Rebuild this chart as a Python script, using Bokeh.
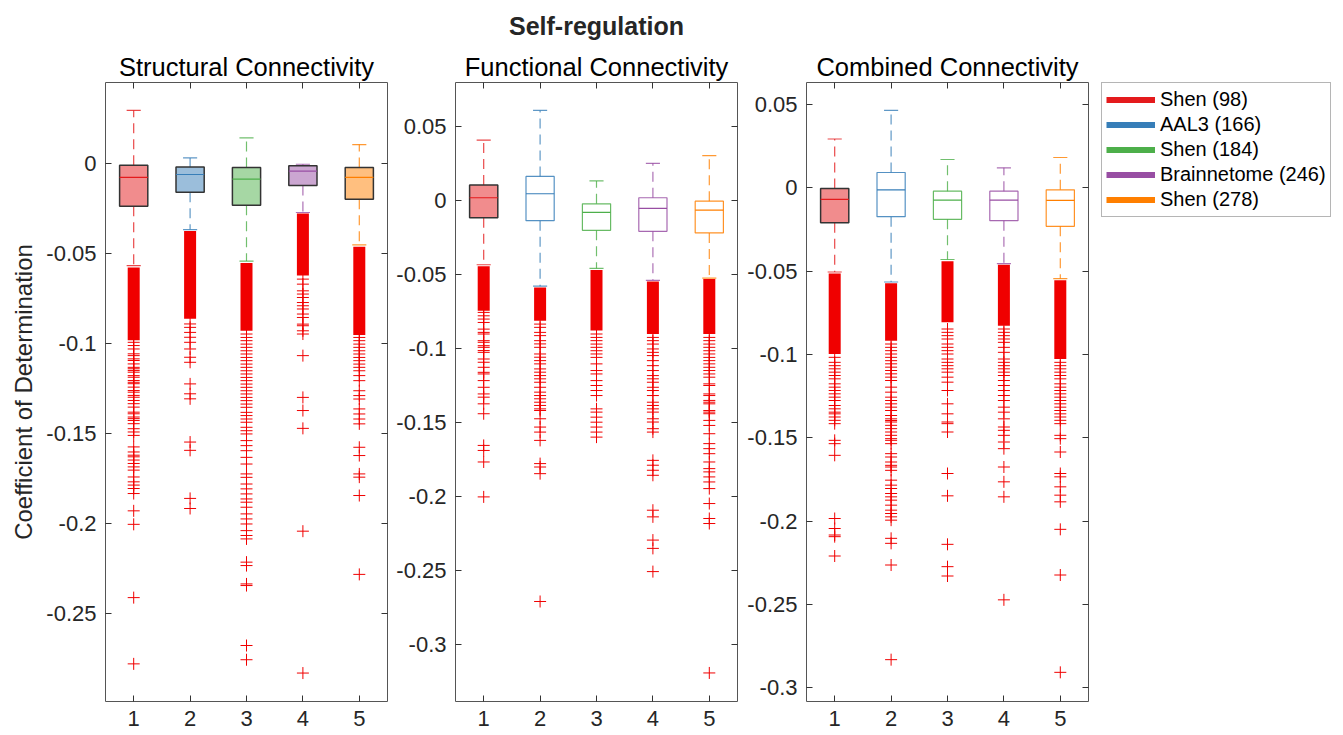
import numpy as np
from bokeh.plotting import figure
from bokeh.models import LinearAxis, FixedTicker, Range1d, Title, Legend, LegendItem
from bokeh.layouts import row
from bokeh.embed import file_html
from bokeh.resources import INLINE

# ---------------- data ----------------
SUPTITLE = "Self-regulation"
PANEL_TITLES = ["Structural Connectivity", "Functional Connectivity", "Combined Connectivity"]
Y_LABEL = "Coefficient of Determination"
ATLASES = ["Shen (98)", "AAL3 (166)", "Shen (184)", "Brainnetome (246)", "Shen (278)"]
COLORS = ["#E41A1C", "#377EB8", "#4DAF4A", "#984EA3", "#FF7F00"]
X_TICKS = [1, 2, 3, 4, 5]
X_LABELS = ["1", "2", "3", "4", "5"]

Y_TICKS = [
    [-0.25, -0.2, -0.15, -0.1, -0.05, 0],
    [-0.3, -0.25, -0.2, -0.15, -0.1, -0.05, 0, 0.05],
    [-0.3, -0.25, -0.2, -0.15, -0.1, -0.05, 0, 0.05],
]
Y_TICK_LABELS = [
    ["-0.25", "-0.2", "-0.15", "-0.1", "-0.05", "0"],
    ["-0.3", "-0.25", "-0.2", "-0.15", "-0.1", "-0.05", "0", "0.05"],
    ["-0.3", "-0.25", "-0.2", "-0.15", "-0.1", "-0.05", "0", "0.05"],
]
Y_LIMITS = [(-0.2986, 0.0452), (-0.3387, 0.0797), (-0.3082, 0.0632)]

# box statistics per panel (5 atlases each)
Q3 = [[-0.0007, -0.0017, -0.0020, -0.0011, -0.0020],
      [0.0105, 0.0162, -0.0023, 0.0018, -0.0005],
      [-0.0004, 0.0092, -0.0020, -0.0020, -0.0012]]
MED = [[-0.0075, -0.0059, -0.0085, -0.0040, -0.0075],
       [0.0018, 0.0045, -0.0081, -0.0054, -0.0065],
       [-0.0069, -0.0012, -0.0074, -0.0074, -0.0075]]
Q1 = [[-0.0236, -0.0158, -0.0230, -0.0120, -0.0197],
      [-0.0117, -0.0137, -0.0202, -0.0209, -0.0220],
      [-0.0209, -0.0173, -0.0189, -0.0197, -0.0231]]
W_HI = [[0.0297, 0.0033, 0.0144, -0.0002, 0.0107],
        [0.0408, 0.0608, 0.0132, 0.0251, 0.0303],
        [0.0293, 0.0465, 0.0170, 0.0120, 0.0182]]
W_LO = [[-0.0565, -0.0365, -0.0540, -0.0270, -0.0450],
        [-0.0435, -0.0580, -0.0460, -0.0540, -0.0525],
        [-0.0505, -0.0565, -0.0430, -0.0455, -0.0545]]
FILLED = [[True, True, True, True, True],
          [True, False, False, False, False],
          [True, False, False, False, False]]

# ranges where outliers are so dense that they merge into a solid bar
DENSE_TOP = [[-0.0576, -0.0373, -0.0550, -0.0275, -0.0460],
             [-0.0445, -0.0589, -0.0470, -0.0548, -0.0532],
             [-0.0514, -0.0572, -0.0440, -0.0462, -0.0554]]
DENSE_BOTTOM = [[-0.0980, -0.0860, -0.0927, -0.0620, -0.0950],
                [-0.0746, -0.0813, -0.0880, -0.0903, -0.0903],
                [-0.0997, -0.0917, -0.0807, -0.0827, -0.1027]]

# remaining individual outliers
SC_OUT = [
    [-0.0991, -0.1009, -0.1028, -0.1055, -0.1065, -0.1083, -0.1092, -0.1111, -0.113, -0.1138, -0.1148,
     -0.1157, -0.1176, -0.1185, -0.1203, -0.1213, -0.1221, -0.124, -0.1259, -0.1268, -0.1286, -0.1296,
     -0.1314, -0.1332, -0.1351, -0.1379, -0.1388, -0.1406, -0.1415, -0.1425, -0.1443, -0.1471, -0.1489,
     -0.1508, -0.1572, -0.16, -0.1618, -0.1627, -0.1645, -0.1664, -0.1683, -0.1701, -0.1739, -0.1766,
     -0.1784, -0.1803, -0.1831, -0.1927, -0.2002, -0.2409, -0.2777],
    [-0.0889, -0.0908, -0.0936, -0.0963, -0.0991, -0.1028, -0.1074, -0.1102, -0.1222, -0.1277, -0.1305,
     -0.1545, -0.1591, -0.1858, -0.1914],
    [-0.0945, -0.0964, -0.0982, -0.1001, -0.1019, -0.1038, -0.1056, -0.1075, -0.1093, -0.1112, -0.113,
     -0.1149, -0.1167, -0.1186, -0.1204, -0.1223, -0.1241, -0.126, -0.1278, -0.1297, -0.1315, -0.1334,
     -0.1352, -0.138, -0.1398, -0.1417, -0.1435, -0.1463, -0.1482, -0.15, -0.1537, -0.1565, -0.1593,
     -0.163, -0.1667, -0.1722, -0.1741, -0.1778, -0.1805, -0.1833, -0.1861, -0.1879, -0.1907, -0.1944,
     -0.1972, -0.2, -0.2037, -0.2064, -0.2083, -0.2212, -0.2231, -0.2333, -0.2342, -0.2675, -0.2754],
    [-0.064, -0.0668, -0.0705, -0.0723, -0.0742, -0.077, -0.0788, -0.0806, -0.0834, -0.0853, -0.089,
     -0.0899, -0.0927, -0.0945, -0.1065, -0.1297, -0.137, -0.1469, -0.204, -0.2828],
    [-0.0964, -0.0982, -0.1001, -0.1019, -0.1038, -0.1056, -0.1075, -0.1093, -0.1112, -0.113, -0.1149,
     -0.1176, -0.1204, -0.126, -0.1287, -0.1306, -0.1361, -0.1389, -0.1417, -0.1444, -0.1574, -0.162,
     -0.1722, -0.174, -0.1842, -0.228],
]
FC_OUT = [
    [-0.0757, -0.078, -0.0802, -0.0825, -0.087, -0.0892, -0.0903, -0.0948, -0.0959, -0.0982, -0.0993,
     -0.1015, -0.1027, -0.1072, -0.1094, -0.1128, -0.1162, -0.1173, -0.1218, -0.1263, -0.1308, -0.133,
     -0.1375, -0.1442, -0.1656, -0.169, -0.1768, -0.2004],
    [-0.0836, -0.0858, -0.0892, -0.0914, -0.0948, -0.097, -0.0993, -0.1038, -0.106, -0.1083, -0.1105,
     -0.1139, -0.1161, -0.1184, -0.1206, -0.1229, -0.1263, -0.1296, -0.1319, -0.1341, -0.1364, -0.1386,
     -0.1409, -0.142, -0.1476, -0.1532, -0.1566, -0.1622, -0.1779, -0.1802, -0.1847, -0.2711],
    [-0.0903, -0.0926, -0.0948, -0.0971, -0.0993, -0.1016, -0.1038, -0.1061, -0.1105, -0.115, -0.1173,
     -0.1218, -0.1251, -0.1285, -0.1319, -0.1409, -0.1431, -0.1465, -0.1499, -0.1532, -0.1566, -0.16],
    [-0.0926, -0.0948, -0.0971, -0.1004, -0.1027, -0.1049, -0.1083, -0.1117, -0.115, -0.1184, -0.1206,
     -0.1229, -0.1263, -0.1285, -0.1319, -0.1364, -0.1386, -0.1409, -0.1431, -0.1476, -0.1498, -0.1543,
     -0.1566, -0.1757, -0.179, -0.1824, -0.1858, -0.2094, -0.2139, -0.2296, -0.2352, -0.2509],
    [-0.0926, -0.0948, -0.0971, -0.0993, -0.1016, -0.1038, -0.1061, -0.1083, -0.1105, -0.1128, -0.115,
     -0.1173, -0.1195, -0.124, -0.1251, -0.1308, -0.1319, -0.1352, -0.1364, -0.1375, -0.142, -0.1431,
     -0.1442, -0.1487, -0.1521, -0.1577, -0.1644, -0.1678, -0.1712, -0.1768, -0.1813, -0.1835, -0.1869,
     -0.1903, -0.1948, -0.2049, -0.215, -0.2184, -0.3194],
]
CC_OUT = [
    [-0.1017, -0.1047, -0.1067, -0.1086, -0.1106, -0.1126, -0.1146, -0.1176, -0.1196, -0.1216, -0.1236,
     -0.1256, -0.1276, -0.1306, -0.1326, -0.1346, -0.1356, -0.1375, -0.1395, -0.1415, -0.1515, -0.1535,
     -0.1605, -0.1984, -0.2044, -0.2083, -0.2093, -0.2209],
    [-0.0937, -0.0957, -0.0977, -0.0997, -0.1017, -0.1037, -0.1056, -0.1076, -0.1096, -0.1116, -0.1136,
     -0.1156, -0.1196, -0.1226, -0.1256, -0.1276, -0.1296, -0.1316, -0.1336, -0.1366, -0.1386, -0.1396,
     -0.1405, -0.1425, -0.1445, -0.1465, -0.1485, -0.1505, -0.1515, -0.1535, -0.1595, -0.1615, -0.1645,
     -0.1665, -0.1675, -0.1695, -0.1754, -0.1784, -0.1804, -0.1834, -0.1854, -0.1874, -0.1904, -0.1934,
     -0.1954, -0.1974, -0.1994, -0.2103, -0.2133, -0.2263, -0.2831],
    [-0.0847, -0.0867, -0.0887, -0.0907, -0.0937, -0.0957, -0.0977, -0.0997, -0.1027, -0.1047, -0.1067,
     -0.1086, -0.1106, -0.1136, -0.1166, -0.1216, -0.1296, -0.1356, -0.1405, -0.1415, -0.1465, -0.1714,
     -0.1848, -0.2139, -0.2273, -0.2329],
    [-0.0847, -0.0867, -0.0887, -0.0907, -0.0927, -0.0957, -0.0987, -0.1027, -0.1047, -0.1067, -0.1086,
     -0.1106, -0.1126, -0.1156, -0.1186, -0.1216, -0.1246, -0.1276, -0.1316, -0.1346, -0.1386, -0.1435,
     -0.1455, -0.1485, -0.1525, -0.1565, -0.1675, -0.1764, -0.1854, -0.2472],
    [-0.1047, -0.1067, -0.1086, -0.1106, -0.1126, -0.1146, -0.1176, -0.1196, -0.1216, -0.1236, -0.1256,
     -0.1276, -0.1296, -0.1316, -0.1336, -0.1356, -0.1375, -0.1395, -0.1415, -0.1485, -0.1505, -0.1585,
     -0.1714, -0.1734, -0.1794, -0.1844, -0.1884, -0.2049, -0.2323, -0.2907],
]
OUTLIERS = [SC_OUT, FC_OUT, CC_OUT]

# ---------------- style ----------------
FONT = "Liberation Sans"
TEXT_COLOR = "#262626"
OUT_COLOR = "#F00000"
EDGE_DARK = "#333333"
BOX_W = 0.5
CAP_W = 0.25
MARK = 12
FIG_W = [392, 350, 351]
BORDER_L = [105, 63, 64]
BORDER_R = [5, 5, 5]


def style_axis(ax, ticks, labels, show):
    ax.ticker = FixedTicker(ticks=ticks)
    ax.major_tick_in = 6
    ax.major_tick_out = 0
    ax.minor_tick_line_color = None
    ax.axis_line_color = None
    ax.major_tick_line_color = "#333333"
    ax.major_tick_line_width = 1
    ax.major_label_text_font = FONT
    if show:
        ax.major_label_overrides = {float(t): l for t, l in zip(ticks, labels)}
        ax.major_label_text_color = TEXT_COLOR
        ax.major_label_text_font_size = "22px"
        ax.major_label_standoff = 9
    else:
        # mirrored tick marks only (MATLAB box style), no labels painted
        ax.major_label_text_color = None
        ax.major_label_text_font_size = "1px"
        ax.major_label_standoff = 0


figs = []
for i in range(3):
    p = figure(width=FIG_W[i], height=735, title=None,
               x_range=Range1d(0.5, 5.5), y_range=Range1d(*Y_LIMITS[i]),
               output_backend="svg", toolbar_location=None,
               min_border_left=BORDER_L[i], min_border_right=BORDER_R[i],
               min_border_top=81, min_border_bottom=34,
               background_fill_color="white", border_fill_color="white",
               outline_line_color="#555555", outline_line_width=1)
    p.grid.visible = False

    style_axis(p.xaxis[0], X_TICKS, X_LABELS, True)
    style_axis(p.yaxis[0], Y_TICKS[i], Y_TICK_LABELS[i], True)
    top_ax = LinearAxis()
    style_axis(top_ax, X_TICKS, X_LABELS, False)
    p.add_layout(top_ax, "above")
    right_ax = LinearAxis()
    style_axis(right_ax, Y_TICKS[i], Y_TICK_LABELS[i], False)
    p.add_layout(right_ax, "right")

    if i == 0:
        p.yaxis[0].axis_label = Y_LABEL
        p.yaxis[0].axis_label_text_font = FONT
        p.yaxis[0].axis_label_text_font_size = "24px"
        p.yaxis[0].axis_label_text_font_style = "normal"
        p.yaxis[0].axis_label_text_color = TEXT_COLOR
        p.yaxis[0].axis_label_standoff = 6

    p.add_layout(Title(text=PANEL_TITLES[i], align="center", text_font=FONT,
                       text_font_size="25.5px", text_font_style="normal",
                       text_color="#000000", standoff=3), "above")
    if i == 1:
        p.add_layout(Title(text=SUPTITLE, align="center", text_font=FONT,
                           text_font_size="25px", text_font_style="bold",
                           text_color="#262626", standoff=19), "above")

    x = np.array(X_TICKS, dtype=float)
    q1 = np.array(Q1[i]); q3 = np.array(Q3[i]); med = np.array(MED[i])
    whi = np.array(W_HI[i]); wlo = np.array(W_LO[i])

    for g in range(5):
        c = COLORS[g]
        # whiskers
        p.segment(x0=[x[g], x[g]], y0=[q3[g], q1[g]], x1=[x[g], x[g]], y1=[whi[g], wlo[g]],
                  line_color=c, line_width=1.2, line_dash="10 6", line_alpha=0.8)
        # caps
        p.segment(x0=[x[g] - CAP_W / 2] * 2, y0=[whi[g], wlo[g]],
                  x1=[x[g] + CAP_W / 2] * 2, y1=[whi[g], wlo[g]],
                  line_color=c, line_width=1.2, line_alpha=0.8)

    # dense outlier bars
    dt = np.array(DENSE_TOP[i]); db = np.array(DENSE_BOTTOM[i])
    p.rect(x=x, y=(dt + db) / 2, width=MARK, width_units="screen", height=dt - db,
           fill_color=OUT_COLOR, line_color=None)
    # individual outliers
    ox, oy = [], []
    for g in range(5):
        ox += [x[g]] * len(OUTLIERS[i][g])
        oy += OUTLIERS[i][g]
    p.scatter(ox, oy, marker="cross", size=MARK, line_color=OUT_COLOR, line_width=1)

    # boxes
    for g in range(5):
        c = COLORS[g]
        if FILLED[i][g]:
            p.quad(left=[x[g] - BOX_W / 2], right=[x[g] + BOX_W / 2], bottom=[q1[g]], top=[q3[g]],
                   fill_color=c, fill_alpha=0.5, line_color=EDGE_DARK, line_width=1.5)
        else:
            p.quad(left=[x[g] - BOX_W / 2], right=[x[g] + BOX_W / 2], bottom=[q1[g]], top=[q3[g]],
                   fill_color=None, line_color=c, line_width=1.2, line_alpha=0.85)
        p.segment(x0=[x[g] - BOX_W / 2], y0=[med[g]], x1=[x[g] + BOX_W / 2], y1=[med[g]],
                  line_color=c, line_width=1.2)

    figs.append(p)

# legend in its own narrow figure to the right
pl = figure(width=250, height=735, x_range=Range1d(0, 1), y_range=Range1d(0, 1),
            output_backend="svg", toolbar_location=None,
            min_border_left=8, min_border_right=0, min_border_top=81, min_border_bottom=0,
            outline_line_color=None, background_fill_color="white", border_fill_color="white")
pl.axis.visible = False
pl.grid.visible = False
items = []
for g in range(5):
    r = pl.line(x=[np.nan, np.nan], y=[np.nan, np.nan], line_color=COLORS[g], line_width=6)
    items.append(LegendItem(label=ATLASES[g], renderers=[r]))
legend = Legend(items=items, location="top_left", margin=0,
                label_text_font=FONT, label_text_font_size="20px", label_text_color="#000000",
                glyph_width=49, glyph_height=25, label_height=25, label_standoff=5,
                spacing=0, padding=4, border_line_color="#6b6b6b", border_line_width=1,
                background_fill_color="white")
pl.add_layout(legend, "center")
figs.append(pl)

layout = row(*figs)
open("out.html", "w").write(file_html(layout, INLINE))
